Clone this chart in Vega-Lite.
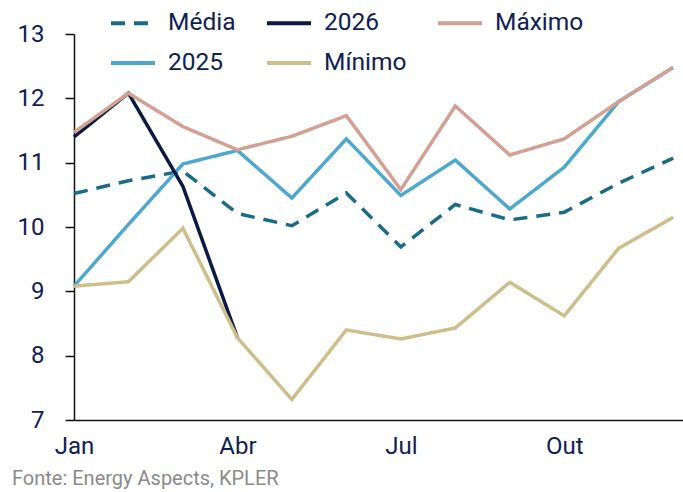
{
  "$schema": "https://vega.github.io/schema/vega-lite/v6.json",
  "width": 609,
  "height": 386,
  "autosize": {"type": "none"},
  "padding": {"left": 74, "top": 34, "right": 0, "bottom": 72},
  "background": "white",
  "config": {
    "view": {"stroke": null},
    "font": "Roboto",
    "axis": {"grid": false, "domainColor": "#111111", "domainWidth": 1.5, "tickColor": "#111111", "tickWidth": 1.5, "labelColor": "#0e2153", "labelFont": "Roboto", "labelFontSize": 24, "title": null}
  },
  "title": {
    "text": "Fonte: Energy Aspects, KPLER",
    "orient": "bottom",
    "anchor": "start",
    "frame": "group",
    "dx": -62,
    "offset": 11,
    "fontSize": 20,
    "fontWeight": "normal",
    "color": "#8a8a8a",
    "font": "Roboto"
  },
  "data": {
    "values": [
      {"serie": "Média", "mes": 1, "valor": 10.52},
      {"serie": "Média", "mes": 2, "valor": 10.72},
      {"serie": "Média", "mes": 3, "valor": 10.87},
      {"serie": "Média", "mes": 4, "valor": 10.21},
      {"serie": "Média", "mes": 5, "valor": 10.02},
      {"serie": "Média", "mes": 6, "valor": 10.53},
      {"serie": "Média", "mes": 7, "valor": 9.69},
      {"serie": "Média", "mes": 8, "valor": 10.35},
      {"serie": "Média", "mes": 9, "valor": 10.11},
      {"serie": "Média", "mes": 10, "valor": 10.23},
      {"serie": "Média", "mes": 11, "valor": 10.68},
      {"serie": "Média", "mes": 12, "valor": 11.07},
      {"serie": "2025", "mes": 1, "valor": 9.08},
      {"serie": "2025", "mes": 2, "valor": 10.04},
      {"serie": "2025", "mes": 3, "valor": 10.98},
      {"serie": "2025", "mes": 4, "valor": 11.19},
      {"serie": "2025", "mes": 5, "valor": 10.45},
      {"serie": "2025", "mes": 6, "valor": 11.37},
      {"serie": "2025", "mes": 7, "valor": 10.49},
      {"serie": "2025", "mes": 8, "valor": 11.04},
      {"serie": "2025", "mes": 9, "valor": 10.28},
      {"serie": "2025", "mes": 10, "valor": 10.93},
      {"serie": "2025", "mes": 11, "valor": 11.95},
      {"serie": "2025", "mes": 12, "valor": 12.48},
      {"serie": "2026", "mes": 1, "valor": 11.40},
      {"serie": "2026", "mes": 2, "valor": 12.08},
      {"serie": "2026", "mes": 3, "valor": 10.63},
      {"serie": "2026", "mes": 4, "valor": 8.28},
      {"serie": "Máximo", "mes": 1, "valor": 11.47},
      {"serie": "Máximo", "mes": 2, "valor": 12.08},
      {"serie": "Máximo", "mes": 3, "valor": 11.56},
      {"serie": "Máximo", "mes": 4, "valor": 11.20},
      {"serie": "Máximo", "mes": 5, "valor": 11.41},
      {"serie": "Máximo", "mes": 6, "valor": 11.73},
      {"serie": "Máximo", "mes": 7, "valor": 10.58},
      {"serie": "Máximo", "mes": 8, "valor": 11.88},
      {"serie": "Máximo", "mes": 9, "valor": 11.12},
      {"serie": "Máximo", "mes": 10, "valor": 11.37},
      {"serie": "Máximo", "mes": 11, "valor": 11.95},
      {"serie": "Máximo", "mes": 12, "valor": 12.48},
      {"serie": "Mínimo", "mes": 1, "valor": 9.08},
      {"serie": "Mínimo", "mes": 2, "valor": 9.15},
      {"serie": "Mínimo", "mes": 3, "valor": 9.98},
      {"serie": "Mínimo", "mes": 4, "valor": 8.28},
      {"serie": "Mínimo", "mes": 5, "valor": 7.32},
      {"serie": "Mínimo", "mes": 6, "valor": 8.40},
      {"serie": "Mínimo", "mes": 7, "valor": 8.26},
      {"serie": "Mínimo", "mes": 8, "valor": 8.43},
      {"serie": "Mínimo", "mes": 9, "valor": 9.14},
      {"serie": "Mínimo", "mes": 10, "valor": 8.62},
      {"serie": "Mínimo", "mes": 11, "valor": 9.67},
      {"serie": "Mínimo", "mes": 12, "valor": 10.15}
    ]
  },
  "mark": {"type": "line", "strokeWidth": 3.5, "strokeCap": "butt", "strokeJoin": "miter"},
  "encoding": {
    "x": {
      "field": "mes",
      "type": "quantitative",
      "scale": {"domain": [1, 12.18], "nice": false, "zero": false},
      "axis": {
        "values": [1, 4, 7, 10],
        "labelExpr": "datum.value == 1 ? 'Jan' : datum.value == 4 ? 'Abr' : datum.value == 7 ? 'Jul' : 'Out'",
        "ticks": false,
        "labelPadding": 14,
        "labelFlush": false
      }
    },
    "y": {
      "field": "valor",
      "type": "quantitative",
      "scale": {"domain": [7, 13], "nice": false, "zero": false},
      "axis": {"values": [7, 8, 9, 10, 11, 12, 13], "tickSize": 9, "labelPadding": 21}
    },
    "color": {
      "field": "serie",
      "type": "nominal",
      "scale": {
        "domain": ["Média", "2026", "Máximo", "2025", "Mínimo"],
        "range": ["#1a6b86", "#0b1a44", "#d3a091", "#4ca8cf", "#cfbe89"]
      },
      "legend": {
        "title": null,
        "orient": "none",
        "legendX": 35,
        "legendY": -35,
        "direction": "horizontal",
        "columns": 3,
        "symbolType": "stroke",
        "symbolSize": 1936,
        "symbolStrokeWidth": 4,
        "labelFontSize": 24.5,
        "labelColor": "#0e2153",
        "labelFont": "Roboto",
        "labelOffset": 11,
        "columnPadding": 23,
        "rowPadding": 4
      }
    },
    "strokeDash": {
      "field": "serie",
      "type": "nominal",
      "scale": {
        "domain": ["Média", "2026", "Máximo", "2025", "Mínimo"],
        "range": [[14, 9], [1, 0], [1, 0], [1, 0], [1, 0]]
      },
      "legend": {
        "title": null,
        "orient": "none",
        "legendX": 35,
        "legendY": -35,
        "direction": "horizontal",
        "columns": 3,
        "symbolType": "stroke",
        "symbolSize": 1936,
        "symbolStrokeWidth": 4,
        "labelFontSize": 24.5,
        "labelColor": "#0e2153",
        "labelFont": "Roboto",
        "labelOffset": 11,
        "columnPadding": 23,
        "rowPadding": 4
      }
    }
  }
}
